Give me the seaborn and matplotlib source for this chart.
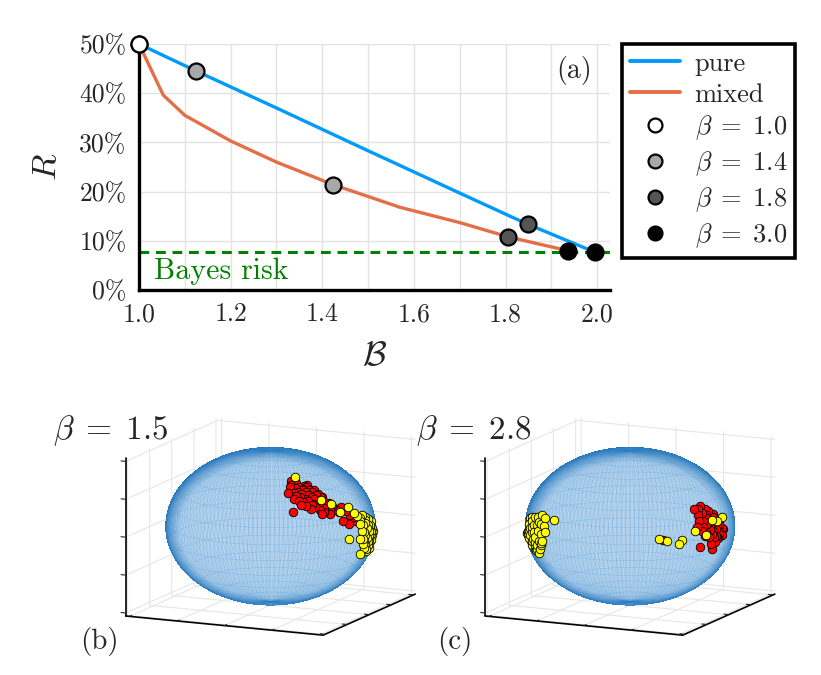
import numpy as np
import matplotlib
matplotlib.use("Agg")
import matplotlib.pyplot as plt
import matplotlib.colors as mcolors
import seaborn as sns
from matplotlib.lines import Line2D

# ---- panel (a) data
pure_B = [1.0, 1.125, 1.3, 1.5, 1.7, 1.845, 1.995]
pure_R = [0.50, 0.445, 0.370, 0.283, 0.197, 0.135, 0.077]
mixed_B = [1.0, 1.053, 1.1, 1.2, 1.3, 1.424, 1.57, 1.7, 1.806, 1.87, 1.937]
mixed_R = [0.50, 0.396, 0.355, 0.303, 0.260, 0.214, 0.168, 0.137, 0.108, 0.094, 0.080]

beta_labels = ["1.0", "1.4", "1.8", "3.0"]
beta_colors = ["white", "#a8a8a8", "#555555", "black"]
pure_pts_B = [1.0, 1.125, 1.848, 1.995]
pure_pts_R = [0.50, 0.445, 0.135, 0.077]
mixed_pts_B = [1.0, 1.424, 1.806, 1.937]
mixed_pts_R = [0.50, 0.214, 0.108, 0.080]
bayes_risk = 0.0765

x_ticks = [1.0, 1.2, 1.4, 1.6, 1.8, 2.0]
x_minor = [1.1, 1.3, 1.5, 1.7, 1.9]
y_ticks = [0.0, 0.1, 0.2, 0.3, 0.4, 0.5]

# ---- panels (b), (c): states on the sphere (longitude, latitude in degrees)
red_b_lon = [-48, -46, -44, -42, -40, -45, -43, -41, -39, -37, -35, -44, -41, -38, -36,
             -34, -32, -40, -37, -35, -33, -31, -29, -36, -33, -30, -28, -26, -38, -34,
             -31, -27, -24, -22, -20, -17, -14, -12, -10, -19, -15, -52, -51, -47, -29, -8,
             -50, -47, -49, -46, -43, -38, -35, -32, -30, -28, -25, -45, -42, -39, -33, -48]
red_b_lat = [47, 44, 48, 45, 43, 41, 39, 42, 40, 44, 42, 37, 35, 38, 36,
             40, 37, 33, 31, 34, 30, 33, 29, 28, 26, 27, 31, 25, 30, 33,
             24, 22, 27, 24, 22, 25, 22, 18, 16, 15, 12, 41, 26, 50, 35, 13,
             45, 38, 36, 34, 33, 45, 46, 41, 38, 35, 30, 31, 30, 27, 23, 40]
yellow_b_lon = [-6, -3, 0, 3, 6, -5, -2, 1, 4, 7, 10, -4, -1, 2, 5, 8, 11, -6, -3, 0,
                3, 6, 9, 12, -2, 1, 4, 7, 10, 0, 3, 6, 9, -16, -42, -30, -24, -11, -19, -8,
                -4, 2, 8, -1, 5, 11, -3, 4]
yellow_b_lat = [16, 14, 15, 13, 11, 10, 8, 9, 7, 6, 8, 4, 3, 5, 2, 1, 3, -1, -2, 0,
                -3, -4, -1, 0, -6, -7, -5, -8, -6, -10, -11, -9, -12, 1, 54, 33, 28.6, 24, 22, 19,
                12, 11, 4, -4, -1, -3, -14, -13]

red_c_lon = [-23, -20, -17, -14, -21, -18, -15, -12, -9, -22, -19, -16, -13, -10, -7,
             -20, -17, -14, -11, -8, -5, -18, -15, -12, -9, -6, -3, -16, -13, -10, -7, -4,
             -14, -11, -8, -23, -13, -46.4, -144, -24, -19, -12, -6, -2, -21, -15, -9]
red_c_lat = [25, 24, 26, 23, 20, 21, 19, 21, 18, 16, 15, 17, 14, 16, 13,
             11, 12, 10, 12, 9, 11, 7, 8, 6, 7, 5, 6, 3, 4, 2, 3, 1,
             -3, -2, 0, -3.3, -7, 5, -2, 12, 4, 2, 9, 5, 8, 13, 1]
yellow_c_lon = [-122, -126, -130, -134, -138, -121, -125, -129, -133, -137, -141,
                -123, -127, -131, -135, -139, -143, -122, -126, -130, -134, -138, -142,
                -124, -128, -132, -136, -140, -125, -129, -133, -137, -128, -132, -113.5,
                -11.4, -7, 0, -26, -18, -48.7, -44.5, -37, -35,
                -120, -127, -135, -142, -124, -131, -139]
yellow_c_lat = [15, 16, 14, 13, 12, 9, 10, 8, 7, 9, 6,
                3, 4, 2, 1, 3, 0, -2, -3, -1, -4, -2, -3,
                -6, -7, -8, -6, -5, -9, -10, -11, -9, -13, -12, 15.5,
                14.5, 12.8, 14, 9.4, 4.7, 5.8, 4.4, 1.4, 3.5,
                5, 11, 5, 10, -4, -5, 1]

BLUE = "#009AFA"
ORANGE = "#E36F47"
GREEN = "#008000"
ELEV, AZIM = 12, -65

sns.set_style("whitegrid")
plt.rcParams["font.family"] = ["cmr10", "DejaVu Serif"]
plt.rcParams["mathtext.fontset"] = "cm"
plt.rcParams["axes.formatter.use_mathtext"] = True

fig = plt.figure(figsize=(8.21, 6.75), dpi=100)

# ---------------- panel (a)
ax = fig.add_axes([139 / 821, 1 - 290 / 675, (610 - 139) / 821, (290 - 44) / 675])
sns.lineplot(x=pure_B, y=pure_R, ax=ax, color=BLUE, lw=2.4, legend=False)
sns.lineplot(x=mixed_B, y=mixed_R, ax=ax, color=ORANGE, lw=2.4, legend=False)
ax.axhline(bayes_risk, color=GREEN, lw=2.2, ls=(0, (3.2, 2.2)))
for i in range(4):
    ax.plot([pure_pts_B[i], mixed_pts_B[i]], [pure_pts_R[i], mixed_pts_R[i]], ls="none",
            marker="o", ms=11.5, mfc=beta_colors[i], mec="black", mew=1.6,
            clip_on=False, zorder=5)
ax.set_xlim(1.0, 2.028)
ax.set_ylim(0, 0.5)
ax.set_xticks(x_ticks)
ax.set_xticks(x_minor, minor=True)
ax.set_xticklabels([f"{t:.1f}" for t in x_ticks])
ax.set_yticks(y_ticks)
ax.set_yticklabels([f"{int(round(t * 100))}%" for t in y_ticks])
ax.tick_params(axis="both", which="both", direction="in", length=6, width=1, color="#444444",
               labelsize=18.5)
ax.tick_params(axis="y", pad=9)
ax.tick_params(axis="x", pad=9)
ax.grid(which="both", color="#e3e3e3", lw=1)
for s in ["top", "right"]:
    ax.spines[s].set_visible(False)
for s in ["left", "bottom"]:
    ax.spines[s].set_color("black")
    ax.spines[s].set_linewidth(2.4)
ax.set_xlabel(r"$\mathcal{B}$", fontsize=25, labelpad=10)
ax.set_ylabel(r"$R$", fontsize=25, labelpad=12)
ax.text(1.033, 0.038, "Bayes risk", color=GREEN, fontsize=21.5, va="center")
ax.text(1.95, 0.447, "(a)", fontsize=20, ha="center", va="center")

handles = [Line2D([], [], color=BLUE, lw=2.8), Line2D([], [], color=ORANGE, lw=2.8)]
labels = ["pure", "mixed"]
for c, b in zip(beta_colors, beta_labels):
    handles.append(Line2D([], [], ls="none", marker="o", ms=10, mfc=c, mec="black", mew=1.6))
    labels.append(rf"$\beta\;=\;{b}$")
leg = fig.legend(handles, labels, loc="upper left", bbox_to_anchor=(622 / 821, 1 - 44 / 675),
                 fontsize=19, frameon=True, fancybox=False, edgecolor="black", framealpha=1,
                 handlelength=1.9, labelspacing=0.27, borderpad=0.3, handletextpad=0.55,
                 borderaxespad=0)
leg.get_frame().set_linewidth(2.6)


# ---------------- panels (b), (c)
def sph(lon, lat):
    lo = np.radians(lon)
    la = np.radians(lat)
    return np.cos(la) * np.cos(lo), np.cos(la) * np.sin(lo), np.sin(la)


phi = np.linspace(0, 2 * np.pi, 145)
th = np.linspace(0, np.pi, 73)
SX = np.outer(np.cos(phi), np.sin(th))
SY = np.outer(np.sin(phi), np.sin(th))
SZ = np.outer(np.ones_like(phi), np.cos(th))

# rim shading: darker where the surface is seen edge-on
e, a = np.radians(ELEV), np.radians(AZIM)
facing = np.abs(SX * np.cos(e) * np.cos(a) + SY * np.cos(e) * np.sin(a) + SZ * np.sin(e))
rim = np.clip((0.5 - facing) / 0.5, 0, 1) ** 0.9
c_in = np.array(mcolors.to_rgb("#b2d2ed"))
c_rim = np.array(mcolors.to_rgb("#1a6eb6"))
face_rgb = c_in * (1 - rim[..., None]) + c_rim * rim[..., None]
face_rgba = np.concatenate([face_rgb, np.ones(rim.shape)[..., None]], axis=-1)


def sphere_panel(rect, red_lon, red_lat, yel_lon, yel_lat):
    a3 = fig.add_axes(rect, projection="3d", computed_zorder=False)
    a3.set_proj_type("ortho")
    a3.view_init(elev=ELEV, azim=AZIM)
    a3.set_box_aspect((1, 1, 0.74), zoom=1.25)
    a3.plot_surface(SX, SY, SZ, facecolors=face_rgba, linewidth=0, shade=False,
                    rstride=1, cstride=1, antialiased=False, zorder=1)
    a3.plot_wireframe(SX, SY, SZ, rcount=145, ccount=18, color="#2b7fc4", lw=0.3,
                      alpha=0.3, zorder=2)
    rx, ry, rz = sph(red_lon, red_lat)
    yx, yy, yz = sph(yel_lon, yel_lat)
    a3.scatter(rx, ry, rz, s=38, c="#ff0000", edgecolors="black", linewidths=0.6,
               depthshade=False, zorder=4)
    a3.scatter(yx, yy, yz, s=38, c="#ffff00", edgecolors="black", linewidths=0.6,
               depthshade=False, zorder=5)
    a3.set_xlim(-1.04, 1.04)
    a3.set_ylim(-1.04, 1.04)
    a3.set_zlim(-1.04, 1.04)
    a3.zaxis._axinfo["juggled"] = (1, 2, 0)
    for axis in (a3.xaxis, a3.yaxis, a3.zaxis):
        axis.set_pane_color((1, 1, 1, 1))
        axis.pane.set_edgecolor("white")
        axis._axinfo["grid"]["color"] = "#e6e6e6"
        axis._axinfo["grid"]["linewidth"] = 0.8
        axis._axinfo["tick"]["inward_factor"] = 0.0
        axis._axinfo["tick"]["outward_factor"] = 0.3
        axis.line.set_color("black")
        axis.line.set_linewidth(1.2)
    a3.set_xticks([-1, -0.5, 0, 0.5, 1])
    a3.set_yticks([-1, -0.5, 0, 0.5, 1])
    a3.set_zticks([-1, -0.5, 0, 0.5, 1])
    a3.set_xticklabels([])
    a3.set_yticklabels([])
    a3.set_zticklabels([])
    a3.tick_params(axis="x", length=0)
    a3.tick_params(axis="y", length=0)
    return a3


sphere_panel([0.095, 0.015, 0.46, 0.40], red_b_lon, red_b_lat, yellow_b_lon, yellow_b_lat)
sphere_panel([0.533, 0.015, 0.46, 0.40], red_c_lon, red_c_lat, yellow_c_lon, yellow_c_lat)

fig.text(53 / 821, 1 - 431 / 675, r"$\beta\;=\;1.5$", fontsize=24, va="center")
fig.text(416 / 821, 1 - 431 / 675, r"$\beta\;=\;2.8$", fontsize=24, va="center")
fig.text(99 / 821, 1 - 641 / 675, "(b)", fontsize=21, ha="center", va="center")
fig.text(455 / 821, 1 - 641 / 675, "(c)", fontsize=21, ha="center", va="center")

fig.savefig("out.png", dpi=100)
